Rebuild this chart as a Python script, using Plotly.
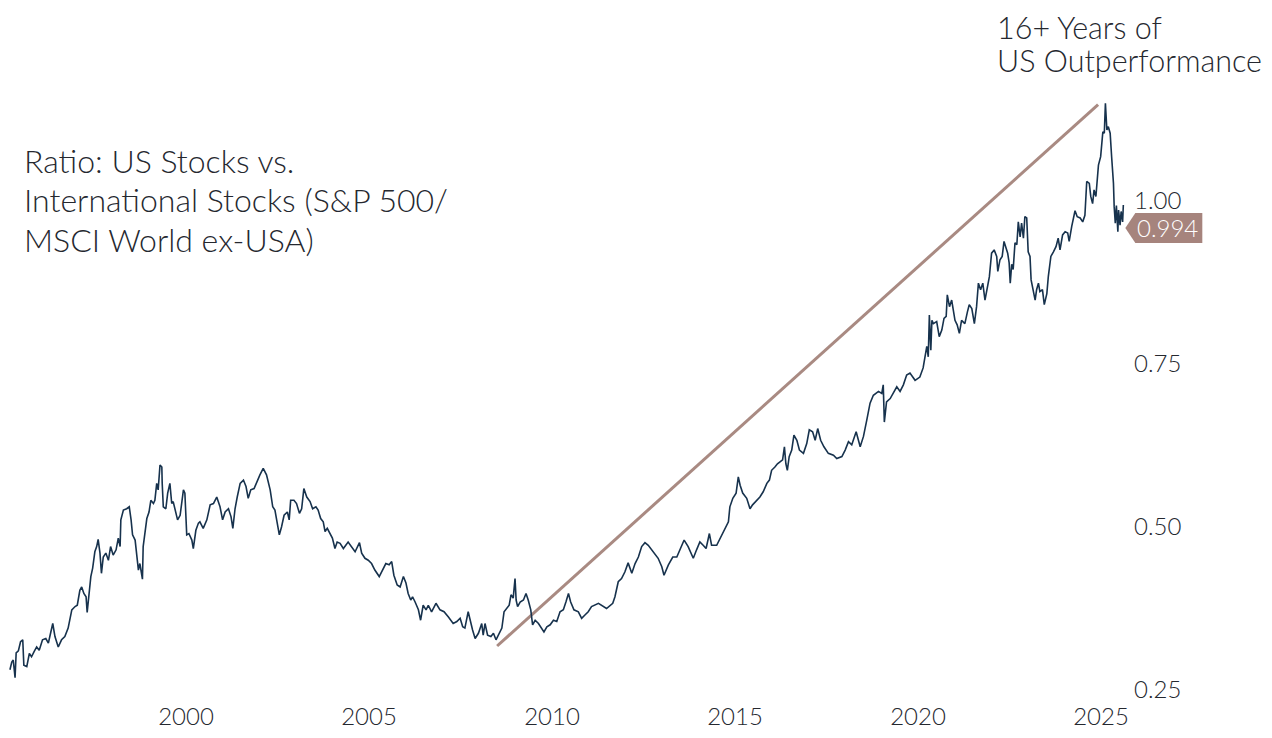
import plotly.graph_objects as go

# Decimal-year dates and ratio values
dates = [
    1995.19, 1995.24, 1995.28, 1995.33, 1995.36, 1995.42, 1995.48, 1995.54, 1995.57, 1995.65,
    1995.72, 1995.78, 1995.85, 1995.92, 1995.99, 1996.08, 1996.17, 1996.24, 1996.28, 1996.36,
    1996.42, 1996.51, 1996.60, 1996.69, 1996.78, 1996.88, 1996.97, 1997.03, 1997.10, 1997.15,
    1997.21, 1997.27, 1997.30, 1997.36, 1997.40, 1997.45, 1997.51, 1997.56, 1997.60, 1997.65,
    1997.69, 1997.74, 1997.81, 1997.88, 1997.94, 1998.01, 1998.09, 1998.15, 1998.20, 1998.22,
    1998.29, 1998.38, 1998.45, 1998.50, 1998.54, 1998.61, 1998.65, 1998.70, 1998.74, 1998.81,
    1998.83, 1998.88, 1998.93, 1998.99, 1999.04, 1999.11, 1999.15, 1999.20, 1999.24, 1999.29,
    1999.34, 1999.35, 1999.38, 1999.45, 1999.50, 1999.56, 1999.61, 1999.65, 1999.72, 1999.77,
    1999.84, 1999.88, 1999.93, 1999.97, 2000.02, 2000.08, 2000.16, 2000.20, 2000.27, 2000.34,
    2000.38, 2000.47, 2000.57, 2000.66, 2000.75, 2000.84, 2000.93, 2001.00, 2001.07, 2001.16,
    2001.23, 2001.28, 2001.34, 2001.40, 2001.48, 2001.57, 2001.64, 2001.70, 2001.77, 2001.86,
    2001.93, 2002.02, 2002.11, 2002.20, 2002.30, 2002.37, 2002.43, 2002.49, 2002.55, 2002.61,
    2002.68, 2002.77, 2002.82, 2002.86, 2002.95, 2003.02, 2003.10, 2003.16, 2003.22, 2003.30,
    2003.39, 2003.46, 2003.55, 2003.61, 2003.68, 2003.75, 2003.80, 2003.86, 2003.93, 2004.00,
    2004.07, 2004.13, 2004.21,
    2004.30, 2004.43, 2004.53, 2004.62, 2004.74, 2004.80, 2004.89, 2004.98, 2005.07, 2005.16,
    2005.28, 2005.37, 2005.46, 2005.55, 2005.62, 2005.68, 2005.77, 2005.85, 2005.94, 2006.01,
    2006.07, 2006.14, 2006.19, 2006.26, 2006.35, 2006.41, 2006.48, 2006.56, 2006.62, 2006.71,
    2006.83, 2006.94, 2007.05, 2007.17, 2007.30, 2007.40, 2007.49, 2007.56, 2007.62, 2007.71,
    2007.78, 2007.83, 2007.90, 2007.99, 2008.08, 2008.12, 2008.17, 2008.24, 2008.33, 2008.40,
    2008.47, 2008.53, 2008.63, 2008.69, 2008.76, 2008.83, 2008.88, 2008.94, 2008.99, 2009.02,
    2009.06, 2009.13, 2009.22, 2009.29, 2009.35, 2009.42, 2009.47, 2009.54, 2009.63, 2009.72,
    2009.78, 2009.86, 2009.95, 2010.04, 2010.13, 2010.22, 2010.31, 2010.38, 2010.45, 2010.51,
    2010.60, 2010.72, 2010.81, 2010.90, 2010.99, 2011.08, 2011.17, 2011.27,
    2011.49, 2011.66, 2011.72, 2011.81, 2011.90, 2011.99, 2012.08, 2012.18, 2012.27, 2012.36,
    2012.45, 2012.54, 2012.63, 2012.77, 2012.90, 2013.00, 2013.06, 2013.18, 2013.30, 2013.41,
    2013.50, 2013.61, 2013.72, 2013.86, 2013.95, 2014.04, 2014.13, 2014.21, 2014.30, 2014.36,
    2014.50, 2014.64, 2014.73, 2014.82, 2014.86, 2014.94, 2015.03, 2015.09, 2015.14, 2015.21,
    2015.32, 2015.41, 2015.48, 2015.59, 2015.68, 2015.77, 2015.87, 2015.94, 2016.00, 2016.09,
    2016.16, 2016.23, 2016.30, 2016.35, 2016.39, 2016.43, 2016.48, 2016.55, 2016.61, 2016.69,
    2016.76, 2016.87, 2016.96, 2017.03, 2017.12, 2017.19, 2017.26, 2017.34, 2017.43, 2017.55,
    2017.69, 2017.78, 2017.92, 2018.01, 2018.10, 2018.19, 2018.31, 2018.42, 2018.51, 2018.60,
    2018.69, 2018.78, 2018.92, 2019.01, 2019.05, 2019.08, 2019.14, 2019.24, 2019.33, 2019.42,
    2019.51, 2019.60, 2019.69, 2019.78, 2019.92, 2020.05,
    2020.14, 2020.19, 2020.24, 2020.28, 2020.31, 2020.35, 2020.38, 2020.42, 2020.51, 2020.58,
    2020.65, 2020.71, 2020.77, 2020.80, 2020.86, 2020.92, 2021.01, 2021.07, 2021.13, 2021.19,
    2021.28, 2021.35, 2021.40, 2021.47, 2021.54, 2021.60, 2021.65, 2021.71, 2021.77, 2021.83,
    2021.88, 2021.95, 2022.01, 2022.08, 2022.15, 2022.18, 2022.24, 2022.30, 2022.35, 2022.40,
    2022.45, 2022.49, 2022.52, 2022.56, 2022.60, 2022.65, 2022.70, 2022.74, 2022.79, 2022.83,
    2022.88, 2022.92, 2022.97, 2023.01, 2023.06, 2023.09, 2023.15, 2023.20, 2023.24, 2023.29,
    2023.33, 2023.40, 2023.45, 2023.52, 2023.56, 2023.63, 2023.70, 2023.77, 2023.83, 2023.88,
    2023.95, 2024.02, 2024.09, 2024.13, 2024.20, 2024.24, 2024.29, 2024.35, 2024.43, 2024.50,
    2024.56, 2024.61, 2024.68, 2024.72, 2024.77, 2024.81, 2024.86, 2024.93, 2024.99, 2025.05,
    2025.09, 2025.12, 2025.16, 2025.20, 2025.25, 2025.29, 2025.34, 2025.36, 2025.39, 2025.42,
    2025.46, 2025.48, 2025.52, 2025.55, 2025.59, 2025.61,
]

ratio = [
    0.281, 0.293, 0.296, 0.269, 0.307, 0.310, 0.324, 0.327, 0.288, 0.286,
    0.306, 0.301, 0.309, 0.316, 0.311, 0.327, 0.329, 0.322, 0.332, 0.352,
    0.332, 0.316, 0.327, 0.332, 0.345, 0.373, 0.378, 0.380, 0.403, 0.408,
    0.398, 0.393, 0.369, 0.398, 0.424, 0.437, 0.462, 0.470, 0.481, 0.460,
    0.429, 0.454, 0.460, 0.449, 0.470, 0.457, 0.465, 0.483, 0.470, 0.511,
    0.526, 0.528, 0.531, 0.511, 0.488, 0.480, 0.454, 0.434, 0.444, 0.420,
    0.470, 0.495, 0.513, 0.523, 0.541, 0.536, 0.541, 0.567, 0.557, 0.595,
    0.592, 0.567, 0.531, 0.528, 0.552, 0.567, 0.536, 0.539, 0.521, 0.511,
    0.518, 0.539, 0.557, 0.552, 0.488, 0.490, 0.480, 0.467, 0.495, 0.506,
    0.508, 0.498, 0.511, 0.534, 0.536, 0.546, 0.531, 0.511, 0.523, 0.528,
    0.516, 0.498, 0.528, 0.546, 0.567, 0.572, 0.562, 0.544, 0.557, 0.559,
    0.569, 0.580, 0.590, 0.580, 0.557, 0.531, 0.526, 0.506, 0.488, 0.500,
    0.518, 0.523, 0.511, 0.541, 0.541, 0.536, 0.521, 0.528, 0.559, 0.546,
    0.539, 0.528, 0.531, 0.526, 0.513, 0.508, 0.493, 0.498, 0.490, 0.483,
    0.467, 0.477, 0.475,
    0.467, 0.477, 0.470, 0.462, 0.476, 0.460, 0.452, 0.449, 0.444, 0.434,
    0.424, 0.434, 0.444, 0.442, 0.447, 0.426, 0.411, 0.408, 0.424, 0.414,
    0.398, 0.388, 0.393, 0.385, 0.373, 0.357, 0.380, 0.373, 0.380, 0.370,
    0.383, 0.373, 0.370, 0.362, 0.352, 0.355, 0.360, 0.347, 0.345, 0.370,
    0.352, 0.342, 0.329, 0.337, 0.352, 0.334, 0.352, 0.334, 0.332, 0.337,
    0.327, 0.334, 0.345, 0.370, 0.375, 0.380, 0.396, 0.391, 0.421, 0.388,
    0.378, 0.385, 0.388, 0.398, 0.388, 0.373, 0.350, 0.357, 0.352, 0.345,
    0.339, 0.347, 0.350, 0.357, 0.355, 0.370, 0.373, 0.385, 0.398, 0.385,
    0.373, 0.370, 0.360, 0.365, 0.370, 0.378, 0.380, 0.383,
    0.375, 0.383, 0.393, 0.416, 0.421, 0.431, 0.445, 0.429, 0.444, 0.454,
    0.470, 0.476, 0.472, 0.462, 0.452, 0.439, 0.426, 0.442, 0.454, 0.454,
    0.467, 0.480, 0.470, 0.452, 0.465, 0.477, 0.472, 0.467, 0.490, 0.472,
    0.472, 0.488, 0.500, 0.508, 0.531, 0.544, 0.552, 0.577, 0.564, 0.552,
    0.544, 0.528, 0.534, 0.541, 0.546, 0.554, 0.567, 0.572, 0.587, 0.592,
    0.597, 0.600, 0.603, 0.623, 0.597, 0.587, 0.608, 0.618, 0.641, 0.633,
    0.618, 0.613, 0.628, 0.649, 0.646, 0.633, 0.651, 0.633, 0.623, 0.613,
    0.610, 0.605, 0.608, 0.618, 0.631, 0.626, 0.646, 0.623, 0.639, 0.664,
    0.690, 0.702, 0.708, 0.705, 0.718, 0.661, 0.692, 0.697, 0.705, 0.715,
    0.708, 0.718, 0.733, 0.736, 0.725, 0.730,
    0.744, 0.761, 0.777, 0.761, 0.825, 0.771, 0.817, 0.812, 0.815, 0.792,
    0.802, 0.820, 0.823, 0.856, 0.838, 0.848, 0.817, 0.810, 0.797, 0.817,
    0.812, 0.830, 0.841, 0.835, 0.812, 0.838, 0.874, 0.864, 0.874, 0.848,
    0.866, 0.884, 0.920, 0.925, 0.915, 0.892, 0.910, 0.915, 0.938, 0.930,
    0.920, 0.905, 0.874, 0.903, 0.895, 0.936, 0.933, 0.968, 0.945, 0.966,
    0.943, 0.976, 0.974, 0.922, 0.915, 0.879, 0.864, 0.848, 0.864, 0.874,
    0.861, 0.864, 0.841, 0.858, 0.884, 0.915, 0.922, 0.930, 0.943, 0.925,
    0.948, 0.953, 0.951, 0.938, 0.961, 0.974, 0.985, 0.976, 0.974, 0.968,
    0.978, 1.030, 1.027, 1.007, 0.996, 1.017, 1.007, 1.055, 1.068, 1.106,
    1.104, 1.150, 1.109, 1.114, 1.104, 1.068, 1.027, 0.991, 0.966, 0.993,
    0.953, 0.986, 0.963, 0.984, 0.968, 0.994,
]

# Trend line endpoints (2008 low to 2025 high)
trend_dates = [2008.50, 2024.92]
trend_values = [0.3175, 1.148]

x_tick_vals = [2000, 2005, 2010, 2015, 2020, 2025]
x_tick_text = ["2000", "2005", "2010", "2015", "2020", "2025"]
y_tick_vals = [0.25, 0.50, 0.75, 1.00]
y_tick_text = ["0.25", "0.50", "0.75", "1.00"]

title_lines = ["Ratio: US Stocks vs.", "International Stocks (S&P 500/", "MSCI World ex-USA)"]
callout_lines = ["16+ Years of", "US Outperformance"]

LINE_COLOR = "#17324d"
TREND_COLOR = "#a98a82"
LABEL_BG = "#a6847d"
TEXT_COLOR = "#25282f"
FONT = "Lato"

X_RANGE = [1995.137, 2025.71]
Y_RANGE = [0.227, 1.1626]

fig = go.Figure()
fig.add_trace(go.Scatter(
    x=trend_dates, y=trend_values, mode="lines",
    line=dict(color=TREND_COLOR, width=3), hoverinfo="skip",
))
fig.add_trace(go.Scatter(
    x=dates, y=ratio, mode="lines",
    line=dict(color=LINE_COLOR, width=1.6),
))

last_x = dates[-1]
last_y = ratio[-1]
# anchor of the value label as a fraction of the plot area
ax = (last_x - X_RANGE[0]) / (X_RANGE[1] - X_RANGE[0])
ay = (last_y - Y_RANGE[0]) / (Y_RANGE[1] - Y_RANGE[0])

# pointer-shaped value label
fig.add_shape(
    type="path", xref="paper", yref="paper",
    xsizemode="pixel", ysizemode="pixel",
    xanchor=ax, yanchor=ay,
    path="M 2,-23 L 12,-8 L 79,-8 L 79,-38 L 12,-38 Z",
    fillcolor=LABEL_BG, line=dict(width=0), layer="above",
)
fig.add_annotation(
    x=ax, y=ay, xref="paper", yref="paper",
    text=f"{last_y:.3f}", showarrow=False,
    xanchor="center", yanchor="middle", xshift=44, yshift=-23,
    font=dict(family=FONT, size=24, color="white", weight=300),
)

title_y = [0.8934, 0.8279, 0.7623]
for txt, yy in zip(title_lines, title_y):
    fig.add_annotation(
        x=0.0125, y=yy, xref="paper", yref="paper", text=txt,
        showarrow=False, xanchor="left", yanchor="middle",
        font=dict(family=FONT, size=32, color=TEXT_COLOR, weight=300),
    )

callout_y = [1.1115, 1.0574]
for txt, yy in zip(callout_lines, callout_y):
    fig.add_annotation(
        x=0.8820, y=yy, xref="paper", yref="paper", text=txt,
        showarrow=False, xanchor="left", yanchor="middle",
        font=dict(family=FONT, size=30.5, color=TEXT_COLOR, weight=300),
    )

# page body has an 8px margin, so the figure is 16px smaller than the window
fig.update_layout(
    width=1256, height=722,
    margin=dict(l=0, r=137, t=87, b=25, autoexpand=False),
    plot_bgcolor="white", paper_bgcolor="white",
    showlegend=False,
    font=dict(family=FONT, color=TEXT_COLOR),
    xaxis=dict(
        range=X_RANGE, tickmode="array",
        tickvals=x_tick_vals, ticktext=x_tick_text,
        showgrid=False, zeroline=False, showline=False, ticks="",
        automargin=False, ticklabelstandoff=-5,
        tickfont=dict(family=FONT, size=24, color=TEXT_COLOR, weight=300),
    ),
    yaxis=dict(
        range=Y_RANGE, side="right", tickmode="array",
        tickvals=y_tick_vals, ticktext=y_tick_text,
        showgrid=False, zeroline=False, showline=False, ticks="",
        automargin=False, ticklabelstandoff=6,
        tickfont=dict(family=FONT, size=24, color=TEXT_COLOR, weight=300),
    ),
)

fig.write_html("out.html")
